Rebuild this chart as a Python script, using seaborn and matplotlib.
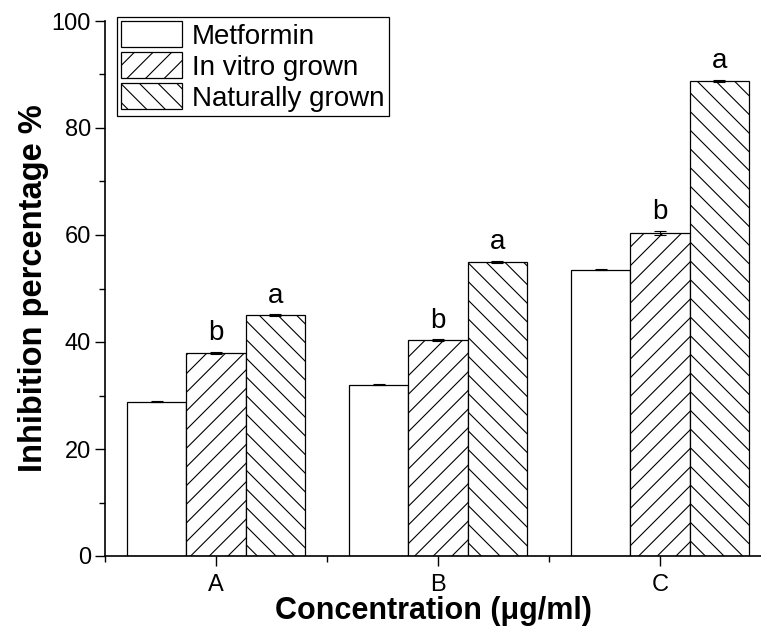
import pandas as pd
import matplotlib
matplotlib.use("Agg")
import matplotlib.pyplot as plt
import matplotlib.patches as mpatches
from matplotlib.ticker import MultipleLocator, FixedLocator
import seaborn as sns

concentrations = ["A", "B", "C"]
groups = ["Metformin", "In vitro grown", "Naturally grown"]
metformin = [28.8, 32.0, 53.5]
in_vitro = [38.0, 40.3, 60.4]
naturally = [45.0, 55.0, 88.8]
metformin_err = [0.1, 0.1, 0.1]
in_vitro_err = [0.2, 0.2, 0.4]
naturally_err = [0.2, 0.2, 0.2]
letters_in_vitro = ["b", "b", "b"]
letters_naturally = ["a", "a", "a"]

rows = []
for g, vals in zip(groups, [metformin, in_vitro, naturally]):
    for c, v in zip(concentrations, vals):
        rows.append({"Concentration": c, "Group": g, "Value": v})
df = pd.DataFrame(rows)

# dpi picked so the hatch lines are spaced like the original; sizes scaled back
DPI = 112
S = 100 / DPI


def pt(v):
    return v * S


sns.set_style("ticks")
plt.rcParams["font.family"] = ["Liberation Sans", "DejaVu Sans"]
plt.rcParams["hatch.linewidth"] = pt(0.8)
plt.rcParams["text.color"] = "black"
plt.rcParams["xtick.color"] = "black"
plt.rcParams["ytick.color"] = "black"
plt.rcParams["axes.labelcolor"] = "black"

fig = plt.figure(figsize=(761 / DPI, 631 / DPI), dpi=DPI)
ax = fig.add_axes([105 / 761, 75 / 631, 656 / 761, 535 / 631])

sns.barplot(data=df, x="Concentration", y="Value", hue="Group",
            hue_order=groups, order=concentrations,
            palette=["white"] * 3, edgecolor="black", linewidth=pt(0.9),
            width=0.8, errorbar=None, legend=False, ax=ax)

hatches = ["", "//", "\\\\"]
errs = [metformin_err, in_vitro_err, naturally_err]
vals_all = [metformin, in_vitro, naturally]
centers = []
for cont, h, err, vals in zip(ax.containers, hatches, errs, vals_all):
    xs = []
    for p in cont.patches:
        p.set_hatch(h)
        p.set_facecolor("white")
        xs.append(p.get_x() + p.get_width() / 2)
    ax.errorbar(xs, vals, yerr=err, fmt="none", ecolor="black",
                elinewidth=pt(0.8), capsize=pt(4), capthick=pt(0.8))
    centers.append(xs)

for xs, letters, vals, err in zip(centers[1:], [letters_in_vitro, letters_naturally],
                                  vals_all[1:], errs[1:]):
    for x, v, e, t in zip(xs, vals, err, letters):
        ax.annotate(t, (x, v + e), xytext=(0, pt(4)), textcoords="offset points",
                    ha="center", va="bottom", fontsize=pt(20))

ax.set_ylim(0, 100)
ax.set_xlim(-0.5, 2.455)
ax.yaxis.set_major_locator(MultipleLocator(20))
ax.yaxis.set_minor_locator(MultipleLocator(10))
ax.xaxis.set_minor_locator(FixedLocator([-0.5, 0.5, 1.5, 2.5]))
ax.tick_params(axis="both", which="major", direction="out", length=pt(7), width=pt(1),
               labelsize=pt(17), color="black", labelcolor="black")
ax.tick_params(axis="both", which="minor", direction="out", length=pt(4), width=pt(1))
ax.tick_params(axis="x", which="major", pad=pt(6))
ax.tick_params(axis="y", which="major", pad=pt(3))
sns.despine(ax=ax)
for s in ["left", "bottom"]:
    ax.spines[s].set_linewidth(pt(1.2))
    ax.spines[s].set_color("black")

ax.set_xlabel("Concentration (μg/ml)", fontsize=pt(22), fontweight="bold", labelpad=pt(0))
ax.set_ylabel("Inhibition percentage %", fontsize=pt(23.5), fontweight="bold", labelpad=pt(2))

handles = [mpatches.Patch(facecolor="white", edgecolor="black", hatch=h, linewidth=pt(0.9))
           for h in hatches]
leg = ax.legend(handles, groups, loc="upper left", bbox_to_anchor=(117 / 761, 1 - 17 / 631),
                bbox_transform=fig.transFigure, fontsize=pt(20), frameon=True, fancybox=False,
                edgecolor="black", framealpha=1, handlelength=2.2, handleheight=1.05,
                handletextpad=0.35, labelspacing=0.1, borderpad=0.15, borderaxespad=0)
leg.get_frame().set_linewidth(pt(0.9))

fig.savefig("out.png", dpi=DPI)
